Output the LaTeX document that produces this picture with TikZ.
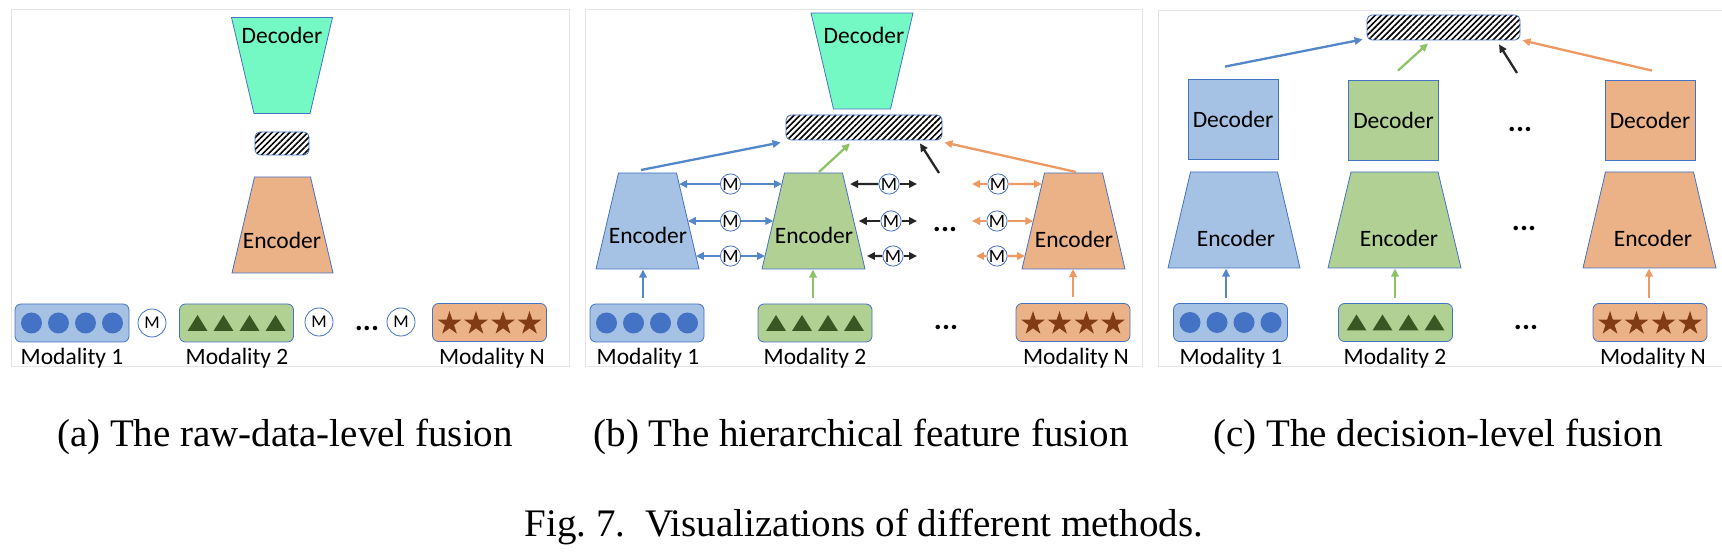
\documentclass[tikz,border=0pt]{standalone}
\usepackage{fontspec}
\setmainfont{Carlito}
\newfontfamily\capfont{Liberation Serif}
\usetikzlibrary{shapes.geometric,arrows.meta,calc,patterns.meta}
\definecolor{dec}{RGB}{117,249,196}
\definecolor{bfill}{RGB}{165,194,228}
\definecolor{gfill}{RGB}{177,208,148}
\definecolor{ofill}{RGB}{235,178,136}
\definecolor{edge}{RGB}{68,114,196}
\definecolor{bdot}{RGB}{68,114,196}
\definecolor{gtri}{RGB}{56,87,35}
\definecolor{ostar}{RGB}{130,60,20}
\definecolor{barrow}{RGB}{84,134,202}
\definecolor{garrow}{RGB}{140,195,105}
\definecolor{oarrow}{RGB}{238,152,98}
\definecolor{karrow}{RGB}{38,38,38}
\definecolor{frame}{RGB}{228,228,228}
% trapezoid: name, cx, cy, top width, bottom width, fill   (height 96)
\newcommand\mytrap[6]{%
  \coordinate (#1-tl) at ({#2-#4/2},{#3-48});
  \coordinate (#1-tr) at ({#2+#4/2},{#3-48});
  \coordinate (#1-bl) at ({#2-#5/2},{#3+48});
  \coordinate (#1-br) at ({#2+#5/2},{#3+48});
  \coordinate (#1-n) at (#2,{#3-48});
  \coordinate (#1-s) at (#2,{#3+48});
  \filldraw[fill=#6, draw=edge, line width=0.8pt] (#1-tl) -- (#1-tr) -- (#1-br) -- (#1-bl) -- cycle;}
\begin{document}
\begin{tikzpicture}[x=1pt,y=-1pt,
  lbl/.style={font=\fontsize{23.5}{28}\selectfont, inner sep=0pt},
  modlbl/.style={font=\fontsize{23.5}{28}\selectfont, inner sep=0pt, anchor=base},
  mbox/.style={rectangle, rounded corners=6pt, draw=edge, line width=0.8pt, fill=#1,
    minimum width=114pt, minimum height=38pt, inner sep=0pt},
  hatchbar/.style={rectangle, rounded corners=5pt, draw=edge, line width=0.8pt,
    pattern={Lines[angle=45,distance=4.2pt,line width=1.6pt]}, pattern color=black, inner sep=0pt},
  dbox/.style={rectangle, draw=edge, line width=0.8pt, fill=#1,
    minimum width=90pt, minimum height=80pt, inner sep=0pt},
  mcirc/.style={circle, draw=edge, line width=0.8pt, fill=white, inner sep=0pt,
    minimum size=#1, font=\fontsize{19}{19}\selectfont},
  conn/.style={draw=#1, line width=2.3pt, -{Triangle[length=8pt,width=7.5pt]}},
  dotstxt/.style={font=\bfseries\fontsize{30}{30}\selectfont, inner sep=0pt, anchor=base},
  captxt/.style={font=\capfont\fontsize{39}{44}\selectfont, inner sep=0pt, anchor=base},
  starshape/.style={star, star points=5, star point ratio=2.6, minimum size=25pt,
    inner sep=0pt, fill=ostar}
]
\useasboundingbox (0,0) rectangle (1722,553);

% panel frames
\draw[draw=frame, line width=1pt] (11,10) rectangle (569,367);
\draw[draw=frame, line width=1pt] (585,10) rectangle (1142,367);
\draw[draw=frame, line width=1pt] (1730,11) -- (1158,11) -- (1158,367) -- (1730,367);

% ================= panel (a)
\mytrap{aD}{282}{65.5}{101}{56}{dec}
\node[lbl] (aDl) at (282,35) {Decoder};
\node[hatchbar, minimum width=54pt, minimum height=23pt] (aH) at (282,143.5) {};
\mytrap{aE}{282.5}{225}{56}{101}{ofill}
\node[lbl] (aEl) at (282,240) {Encoder};
\node[mbox=bfill] (am1) at (72,323) {};
\node[mbox=gfill] (am2) at (236.5,323) {};
\node[mbox=ofill] (am3) at (489.5,322.5) {};
\node[mcirc=28pt, font=\fontsize{18}{18}\selectfont] (aM1) at (152,323) {M};
\node[mcirc=28pt, font=\fontsize{18}{18}\selectfont] (aM2) at (319,322) {M};
\node[mcirc=28pt, font=\fontsize{18}{18}\selectfont] (aM3) at (401,322) {M};
\node[dotstxt] (aDots) at (367,330.5) {...};
\node[modlbl] (aL1) at (72,365) {Modality 1};
\node[modlbl] (aL2) at (237,365) {Modality 2};
\node[modlbl] (aL3) at (492,365) {Modality N};

% ================= panel (b)
\mytrap{bD}{862}{61}{102}{57}{dec}
\node[lbl] (bDl) at (864,35) {Decoder};
\node[hatchbar, minimum width=156pt, minimum height=25pt] (bH) at (864,127.5) {};
\mytrap{be1}{647.5}{221}{58}{103}{bfill}
\mytrap{be2}{813.5}{221}{58}{103}{gfill}
\mytrap{be3}{1073.5}{221}{58}{103}{ofill}
\node[lbl] (be1l) at (648,235) {Encoder};
\node[lbl] (be2l) at (814,235) {Encoder};
\node[lbl] (be3l) at (1074,239) {Encoder};
\node[mbox=bfill] (bm1) at (647,323) {};
\node[mbox=gfill] (bm2) at (815,323) {};
\node[mbox=ofill] (bm3) at (1073,322.5) {};
\node[modlbl] (bL1) at (648,365) {Modality 1};
\node[modlbl] (bL2) at (815,365) {Modality 2};
\node[modlbl] (bL3) at (1076,365) {Modality N};
\node[dotstxt] (bDots1) at (945,232) {...};
\node[dotstxt] (bDots2) at (946,330) {...};

% M links between encoders
\foreach \t/\i in {0.115/1,0.5/2,0.865/3}{
  \coordinate (bl\i) at ($(be1-tr)!\t!(be1-br)$);
  \coordinate (br\i) at ($(be2-tl)!\t!(be2-bl)$);
  \node[mcirc=19pt] (bM\i) at ($(bl\i)!0.5!(br\i)$) {M};
  \draw[conn=barrow] (bM\i) -- (bl\i);
  \draw[conn=barrow] (bM\i) -- (br\i);
  \coordinate (kl\i) at ($(be2-tr)!\t!(be2-br)+(5,0)$);
  \coordinate (or\i) at ($(be3-tl)!\t!(be3-bl)$);
}
\coordinate (kr1) at (917,184); \coordinate (kr2) at (917,221); \coordinate (kr3) at (917,256);
\node[mcirc=19pt] (kM1) at (889,184) {M};
\node[mcirc=19pt] (kM2) at (891,221) {M};
\node[mcirc=19pt] (kM3) at (893,256) {M};
\coordinate (ol1) at (972,184); \coordinate (ol2) at (972,221); \coordinate (ol3) at (976,256);
\node[mcirc=19pt] (oM1) at (998,184) {M};
\node[mcirc=19pt] (oM2) at (997,221) {M};
\node[mcirc=19pt] (oM3) at (997,256) {M};
\foreach \i in {1,2,3}{
  \draw[conn=karrow] (kM\i) -- (kl\i);
  \draw[conn=karrow] (kM\i) -- (kr\i);
  \draw[conn=oarrow] (oM\i) -- (ol\i);
  \draw[conn=oarrow] (oM\i) -- (or\i);
}

% arrows to the fused bar
\coordinate (bk0) at (939,173);
\draw[conn=barrow] ($(be1-n)+(-6.5,-3)$) -- ($(bH.south west)+(-5,2)$);
\draw[conn=garrow] ($(be2-n)+(5.5,-1)$) -- ($(bH.south)+(-14,3)$);
\draw[conn=karrow] (bk0) -- ($(bH.south)+(56,3)$);
\draw[conn=oarrow] ($(be3-n)+(2.5,-1)$) -- ($(bH.south east)+(2,2)$);

% modality to encoder
\draw[conn=barrow] (bm1.north) ++(-4,-6) -- ++(0,-28);
\draw[conn=garrow] (bm2.north) ++(-2,-6) -- ++(0,-28);
\draw[conn=oarrow] (bm3.north) ++(0,-6) -- ++(0,-28);

% ================= panel (c)
\node[hatchbar, minimum width=153pt, minimum height=25pt] (cH) at (1443.5,27.5) {};
\node[dbox=bfill] (cd1) at (1233,119) {};
\node[dbox=gfill] (cd2) at (1393.5,120) {};
\node[dbox=ofill] (cd3) at (1650,120) {};
\node[lbl] (cd1l) at (1233,119) {Decoder};
\node[lbl] (cd2l) at (1393.5,120) {Decoder};
\node[lbl] (cd3l) at (1650,120) {Decoder};
\mytrap{ce1}{1234}{220}{87}{132}{bfill}
\mytrap{ce2}{1394.5}{220}{87}{133}{gfill}
\mytrap{ce3}{1649.5}{220}{88}{133}{ofill}
\node[lbl] (ce1l) at (1236,238) {Encoder};
\node[lbl] (ce2l) at (1399,238) {Encoder};
\node[lbl] (ce3l) at (1653,238) {Encoder};
\node[mbox=bfill] (cm1) at (1230.5,322.5) {};
\node[mbox=gfill] (cm2) at (1395.5,322.5) {};
\node[mbox=ofill] (cm3) at (1650,322.5) {};
\node[modlbl] (cL1) at (1231,365) {Modality 1};
\node[modlbl] (cL2) at (1395,365) {Modality 2};
\node[modlbl] (cL3) at (1653,365) {Modality N};
\node[dotstxt] (cDots1) at (1520,132) {...};
\node[dotstxt] (cDots2) at (1524,231) {...};
\node[dotstxt] (cDots3) at (1526,330) {...};

\coordinate (ck0) at (1517,73);
\draw[conn=barrow] ($(cd1.north)+(-8,-12)$) -- ($(cH.south west)+(-4,-1)$);
\draw[conn=garrow] ($(cd2.north)+(4.5,-9)$) -- ($(cH.south)+(-15.5,3)$);
\draw[conn=karrow] (ck0) -- ($(cH.south)+(55.5,4)$);
\draw[conn=oarrow] ($(cd3.north)+(2,-9)$) -- ($(cH.south east)+(2,0)$);

\draw[conn=barrow] (cm1.north) ++(-4.5,-5.5) -- ++(0,-29);
\draw[conn=garrow] (cm2.north) ++(-0.5,-5.5) -- ++(0,-29);
\draw[conn=oarrow] (cm3.north) ++(-1,-5.5) -- ++(0,-29);

% ================= modality box contents
\foreach \b in {am1,bm1,cm1}{
  \foreach \dx in {-40.5,-13.5,13.5,40.5}{
    \fill[bdot] ($(\b)+(\dx,0)$) circle[radius=10.5];
  }
}
\foreach \b in {am2,bm2,cm2}{
  \foreach \dx in {-39,-13,13,39}{
    \fill[gtri] ($(\b)+(\dx,8)$) -- ++(10,0) -- ++(-10,-16) -- ++(-10,16) -- cycle;
  }
}
\foreach \b in {am3,bm3,cm3}{
  \foreach \dx in {-40,-13.5,13.5,40}{
    \node[starshape] at ($(\b)+(\dx,1)$) {};
  }
}

% ================= captions
\node[captxt] (capa) at (285,446) {(a) The raw-data-level fusion};
\node[captxt] (capb) at (861,446) {(b) The hierarchical feature fusion};
\node[captxt] (capc) at (1438,446) {(c) The decision-level fusion};
\node[captxt] (fig) at (864,536) {Fig.~7.\ \ Visualizations of different methods.};
\end{tikzpicture}
\end{document}
